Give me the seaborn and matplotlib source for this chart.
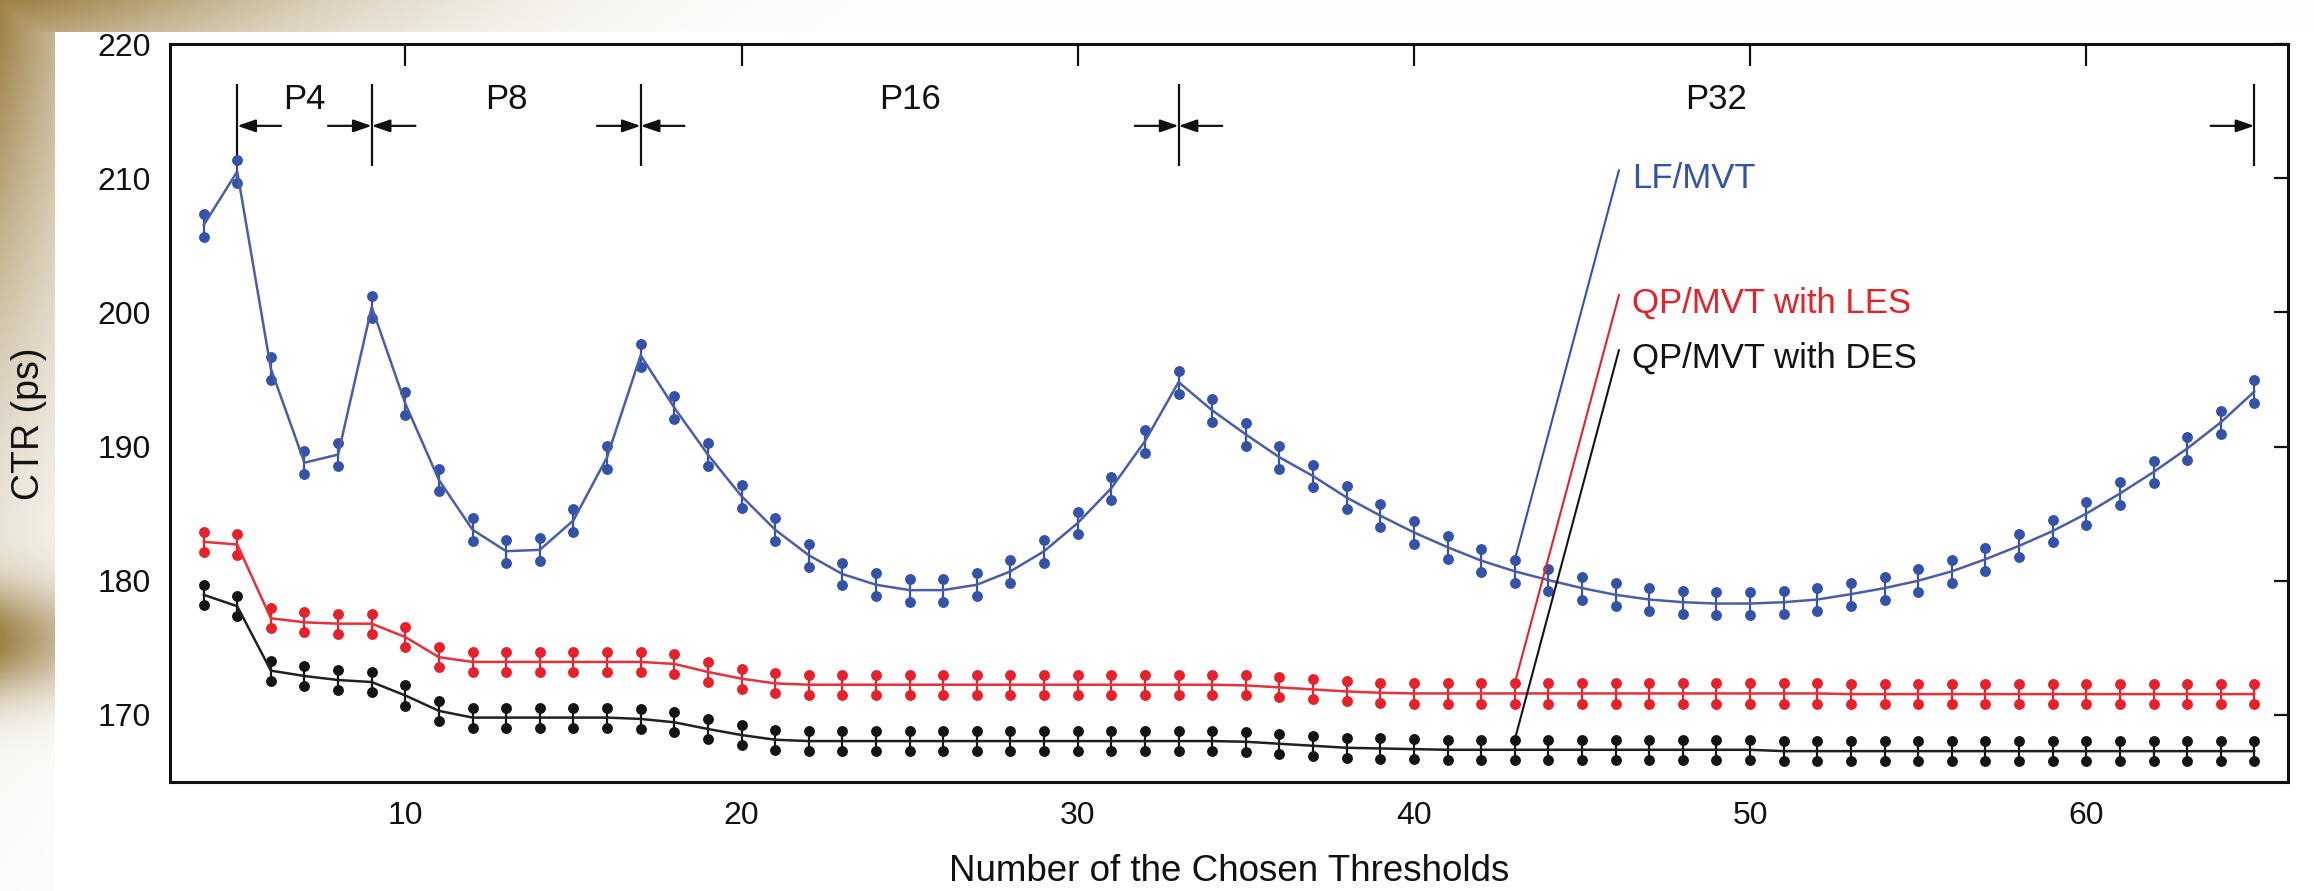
import numpy as np
import pandas as pd
import matplotlib
matplotlib.use("Agg")
import matplotlib.pyplot as plt
import seaborn as sns

# ---- data ----
thresholds = list(range(4, 66))

lf_mvt = [206.5, 210.5, 195.8, 188.8, 189.4, 200.4, 193.2, 187.5, 183.8, 182.2,
          182.3, 184.5, 189.2, 196.8, 192.9, 189.4, 186.3, 183.8, 181.9, 180.5,
          179.7, 179.3, 179.3, 179.7, 180.7, 182.2, 184.3, 186.9, 190.4, 194.8,
          192.7, 190.9, 189.2, 187.8, 186.2, 184.85, 183.6, 182.5, 181.5, 180.7,
          180.05, 179.45, 178.95, 178.6, 178.4, 178.3, 178.3, 178.4, 178.6, 179.0,
          179.45, 180.0, 180.7, 181.6, 182.6, 183.7, 185.0, 186.5, 188.1, 189.85,
          191.8, 194.1]

qp_les = [182.9, 182.7, 177.2, 176.9, 176.8, 176.8, 175.8, 174.3, 173.95, 173.95,
          173.95, 173.95, 173.95, 173.95, 173.8, 173.2, 172.7, 172.35, 172.25, 172.25,
          172.25, 172.25, 172.25, 172.25, 172.25, 172.25, 172.25, 172.25, 172.25, 172.25,
          172.25, 172.2, 172.05, 171.9, 171.75, 171.65, 171.6, 171.6, 171.6, 171.6,
          171.6, 171.6, 171.6, 171.6, 171.6, 171.6, 171.6, 171.6, 171.6, 171.55,
          171.55, 171.55, 171.55, 171.55, 171.55, 171.55, 171.55, 171.55, 171.55, 171.55,
          171.55, 171.55]

qp_des = [178.95, 178.1, 173.3, 172.9, 172.6, 172.45, 171.45, 170.3, 169.8, 169.8,
          169.8, 169.8, 169.8, 169.7, 169.45, 168.95, 168.5, 168.15, 168.05, 168.05,
          168.05, 168.05, 168.05, 168.05, 168.05, 168.05, 168.05, 168.05, 168.05, 168.05,
          168.05, 168.0, 167.85, 167.7, 167.55, 167.5, 167.45, 167.4, 167.4, 167.4,
          167.4, 167.4, 167.4, 167.4, 167.4, 167.4, 167.4, 167.3, 167.3, 167.3,
          167.3, 167.3, 167.3, 167.3, 167.3, 167.3, 167.3, 167.3, 167.3, 167.3,
          167.3, 167.3]

err_lf = 0.85
err_les = 0.75
err_des = 0.75

period_edges = [5, 9, 17, 33, 65]
period_labels = ["P4", "P8", "P16", "P32"]

series_names = ["LF/MVT", "QP/MVT with LES", "QP/MVT with DES"]
series_colors = ["#3352a8", "#e8202a", "#141414"]
line_colors = ["#4a5da6", "#e8303a", "#202020"]
label_anchor = 43
label_tops = [210.6, 201.3, 197.2]

sns.set_style("white")
plt.rcParams['font.family'] = ['Liberation Sans', 'DejaVu Sans']

fig = plt.figure(figsize=(23.14, 8.91), dpi=100)

# slide background: golden fade in the top-left corner
H, W = 891, 2314
yy, xx = np.mgrid[0:H, 0:W].astype(float)
w = np.zeros((H, W))
top = yy < 32
w[top] = np.exp(-(xx[top] / 330.0) ** 1.5) * (1 - 0.25 * yy[top] / 32)
left = xx < 55
wl = (np.exp(-(yy / 380.0) ** 1.5) + 0.9 * np.exp(-((yy - 640) / 55.0) ** 2)) * (1 - 0.4 * xx / 55)
w[left] = np.maximum(w[left], wl[left])
w = np.clip(w, 0, 1)[..., None]
gold = np.array([0.62, 0.51, 0.28])
img = w * gold + (1 - w) * 1.0
bg = fig.add_axes([0, 0, 1, 1], zorder=-10)
bg.imshow(img, aspect='auto', extent=[0, 1, 0, 1], interpolation='bilinear')
bg.axis('off')

ax = fig.add_axes([170 / W, 1 - 782 / H, (2288 - 170) / W, (782 - 44) / H])
ax.patch.set_alpha(0)

all_vals = [lf_mvt, qp_les, qp_des]
all_errs = [err_lf, err_les, err_des]
for name, vals, err, c, lc in zip(series_names, all_vals, all_errs, series_colors, line_colors):
    df = pd.DataFrame({"x": thresholds, "y": vals})
    v = np.array(vals)
    ax.errorbar(thresholds, vals, yerr=err, fmt='none', ecolor=c, elinewidth=1.6, capsize=0, zorder=2)
    ax.plot(thresholds, v + err, 'o', color=c, ms=6.8, zorder=3)
    ax.plot(thresholds, v - err, 'o', color=c, ms=6.8, zorder=3)
    sns.lineplot(data=df, x="x", y="y", color=lc, linewidth=1.8, ax=ax, zorder=4)

# period markers
arrow_y = 213.9
astyle = '-|>,head_length=1.1,head_width=0.38'
ax.vlines(period_edges, 210.9, 217.0, color='#111111', linewidth=1.6)
for i, e in enumerate(period_edges):
    if i > 0:
        ax.annotate("", xy=(e, arrow_y), xytext=(e - 1.3, arrow_y),
                    arrowprops=dict(arrowstyle=astyle, color='#111111', lw=1.6,
                                    shrinkA=0, shrinkB=0))
    if i < len(period_edges) - 1:
        ax.annotate("", xy=(e, arrow_y), xytext=(e + 1.3, arrow_y),
                    arrowprops=dict(arrowstyle=astyle, color='#111111', lw=1.6,
                                    shrinkA=0, shrinkB=0))
for lab, a, b in zip(period_labels, period_edges[:-1], period_edges[1:]):
    ax.text((a + b) / 2, 215.9, lab, ha='center', va='center', fontsize=25, color='#111111')

# labels with leader lines
idx = thresholds.index(label_anchor)
for name, vals, err, c, yt in zip(series_names, all_vals, all_errs, series_colors, label_tops):
    ax.plot([label_anchor, 46.1], [vals[idx] + err, yt], color=c, linewidth=1.5, zorder=5)
    ax.text(46.5, yt - 0.6, name, color=c, fontsize=25, ha='left', va='center')

ax.set_xlim(3, 66)
ax.set_ylim(165, 220)
ax.set_xticks([10, 20, 30, 40, 50, 60])
ax.set_yticks([170, 180, 190, 200, 210, 220])
ax.tick_params(axis='both', direction='in', top=True, right=True, width=1.6,
               labelsize=23, colors='#111111')
ax.tick_params(axis='x', length=16, pad=14)
ax.tick_params(axis='y', length=10, pad=14)
for s in ax.spines.values():
    s.set_linewidth(2.2)
    s.set_color('#111111')
    s.set_visible(True)

ax.set_xlabel("Number of the Chosen Thresholds", fontsize=26.5, color='#111111')
ax.set_ylabel("CTR (ps)", fontsize=27, color='#111111')
ax.xaxis.set_label_coords(0.5, -0.097)
ax.yaxis.set_label_coords(-0.058, 0.485)

fig.savefig("out.png", dpi=100)
